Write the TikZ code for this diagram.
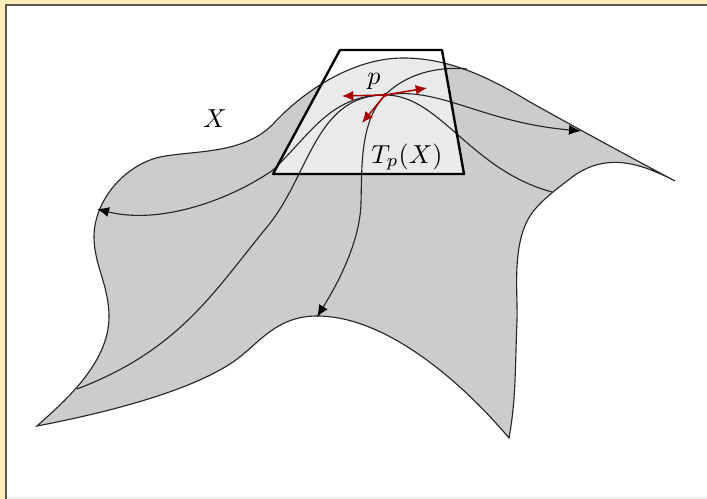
\documentclass[tikz,border=0pt]{standalone}
\usepackage{amsmath,amssymb}
\usetikzlibrary{arrows.meta}

\definecolor{frameColor}{RGB}{255,236,184}
\definecolor{ruleColor}{RGB}{90,85,75}
\definecolor{surfColor}{RGB}{204,204,204}
\definecolor{vecColor}{RGB}{170,0,0}

\tikzset{
    curveline/.style={black!85, line width=0.45pt},
    tanvec/.style={vecColor, line width=0.6pt, -{Latex[length=4.5pt,width=4pt]}},
    geoarrow/.style={-{Latex[length=4.8pt,width=4pt,black]}},
    bigmath/.style={scale=1.04},
}

% outline of the surface
\newcommand{\surfpath}{
    (37,426) .. controls (60,405) and (109,365) .. (109,317)
    .. controls (109,285) and (94,265) .. (94,237)
    .. controls (94,200) and (125,165) .. (160,157)
    .. controls (195,150) and (245,155) .. (275,122)
    .. controls (300,95) and (350,58) .. (403,58)
    .. controls (450,58) and (490,78) .. (530,102)
    .. controls (580,130) and (630,157) .. (675,181)
    .. controls (635,160) and (605,155) .. (575,175)
    .. controls (555,190) and (545,198) .. (537,207)
    .. controls (510,235) and (518,290) .. (517,320)
    .. controls (515,370) and (516,400) .. (509,438)
    .. controls (460,380) and (385,316) .. (317,316)
    .. controls (275,316) and (258,345) .. (233,362)
    .. controls (190,391) and (110,412) .. (37,426)
}

\begin{document}
\begin{tikzpicture}[x=0.4pt, y=-0.4pt]

% Frame
\fill[frameColor] (0,0) rectangle (707,499);
\fill[ruleColor] (5,4) rectangle (707,499);
\fill[black!6] (7,6) rectangle (707,499);
\fill[white] (7,6) rectangle (707,497);
\useasboundingbox (0,0) rectangle (707,499);

% Surface
\fill[surfColor] \surfpath -- cycle;

% Tangent plane
\coordinate (tl) at (340,50);
\coordinate (tr) at (442,50);
\coordinate (br) at (464,174);
\coordinate (bl) at (273,174);
\fill[white, opacity=0.6] (tl) -- (tr) -- (br) -- (bl) -- cycle;

\draw[curveline] \surfpath -- cycle;

% Curves through p
\coordinate (p) at (385,95);
\coordinate (leftend) at (97,209);
\coordinate (rightend) at (581,131);
\coordinate (lowend) at (317,317);
\draw[curveline, geoarrow] (p) .. controls (440,86) and (480,122) .. (rightend);
\draw[curveline, geoarrow] (p) .. controls (330,95) and (310,135) .. (273,170)
    .. controls (230,200) and (160,225) .. (leftend);
\draw[curveline] (77,389) .. controls (180,350) and (215,290) .. (267,227)
    .. controls (310,175) and (315,95) .. (p)
    .. controls (440,95) and (470,170) .. (552,192);
\draw[curveline, geoarrow] (467,69) .. controls (435,66) and (405,75) .. (p)
    .. controls (360,122) and (362,165) .. (361,203)
    .. controls (360,240) and (340,280) .. (lowend);

% Trapezoid
\draw[line width=0.95pt, line join=round] (tl) -- (tr) -- (br) -- (bl) -- cycle;

% Tangent vectors
\coordinate (vleft) at (342,96);
\coordinate (vright) at (427,88);
\coordinate (vdown) at (362,123);
\draw[tanvec] (p) -- (vleft);
\draw[tanvec] (p) -- (vright);
\draw[tanvec] (p) -- (vdown);
\fill[vecColor] (p) circle (0.8pt);

% Labels
\node[bigmath] (plabel) at (374,81) {$p$};
\node[bigmath] (xlabel) at (215,119) {$X$};
\node[bigmath] (tlabel) at (407,157) {$T_p(X)$};

\end{tikzpicture}
\end{document}
